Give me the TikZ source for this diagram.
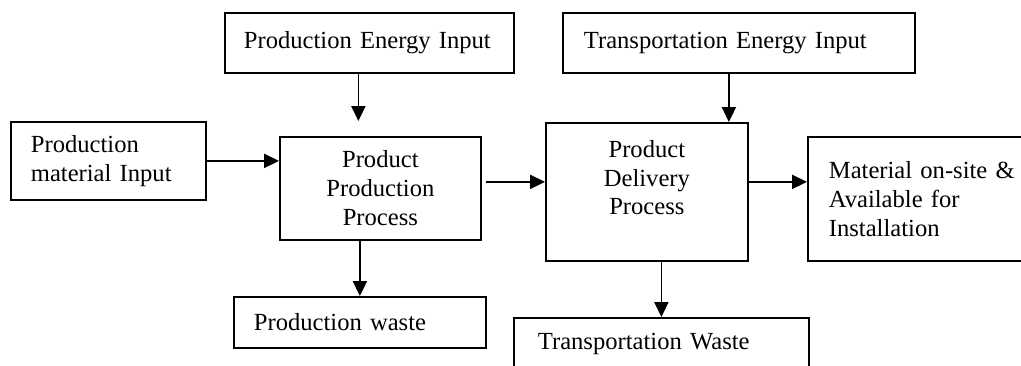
\documentclass[tikz,border=0pt]{standalone}
\usepackage{fontspec}
\setmainfont{Liberation Serif}
\usetikzlibrary{arrows.meta,positioning,calc}

\begin{document}
\begin{tikzpicture}[->,>={Triangle[length=8.5pt,width=8pt]},line width=1pt,
 font=\fontsize{14}{16.4}\selectfont,
 box/.style={draw, anchor=north west, inner ysep=0pt, align=left},
 midbox/.style={draw, anchor=north west, inner ysep=0pt, align=center}]
 \useasboundingbox (0, 0) rectangle (20.42, -7.30);
 % production side
 \node[box, inner xsep=3.8mm, text width=5.02cm, minimum height=1.20cm] (penergy) at (4.48, -0.24) {Production Energy Input};
 \node[box, inner xsep=4mm, text width=3.10cm, minimum height=1.56cm] (pmaterial) at (0.20, -2.42) {Production\\ material Input};
 \node[midbox, minimum width=4.02cm, minimum height=2.06cm] (pprocess) at (5.58, -2.72) {Product\\ Production\\ Process};
 \node[box, inner xsep=4mm, text width=4.24cm, minimum height=1.02cm] (pwaste) at (4.66, -5.92) {Production waste};
 % delivery side
 \node[box, inner xsep=4.2mm, text width=6.20cm, minimum height=1.20cm] (tenergy) at (11.24, -0.24) {Transportation Energy Input};
 \node[midbox, minimum width=4.04cm, minimum height=2.76cm] (delivery) at (10.90, -2.44) {Product\\ Delivery\\ Process\\ \mbox{}};
 \node[box, inner xsep=4.2mm, text width=3.96cm, minimum height=2.48cm] (material) at (16.14, -2.72) {Material on-site \&\\ Available for\\ Installation};
 \node[box, inner xsep=4.8mm, text width=4.94cm, minimum height=1.04cm] (twaste) at (10.26, -6.34) {Transportation Waste};
 % flows
 \draw[shorten >=0.30cm] ([xshift=-2.2mm]penergy.south) -- ([xshift=-2.2mm]penergy.south |- pprocess.north);
 \draw (pmaterial.east) -- (pmaterial.east -| pprocess.west);
 \draw (pwaste.north |- pprocess.south) -- (pwaste.north);
 \draw[shorten <=0.8mm] ([yshift=1.3mm]pprocess.east) -- ([yshift=1.3mm]pprocess.east -| delivery.west);
 \draw ([xshift=-2mm]tenergy.south) -- ([xshift=-2mm]tenergy.south |- delivery.north);
 \draw ([yshift=2mm]delivery.east) -- ([yshift=2mm]delivery.east -| material.west);
 \draw (twaste.north |- delivery.south) -- (twaste.north);
\end{tikzpicture}
\end{document}
